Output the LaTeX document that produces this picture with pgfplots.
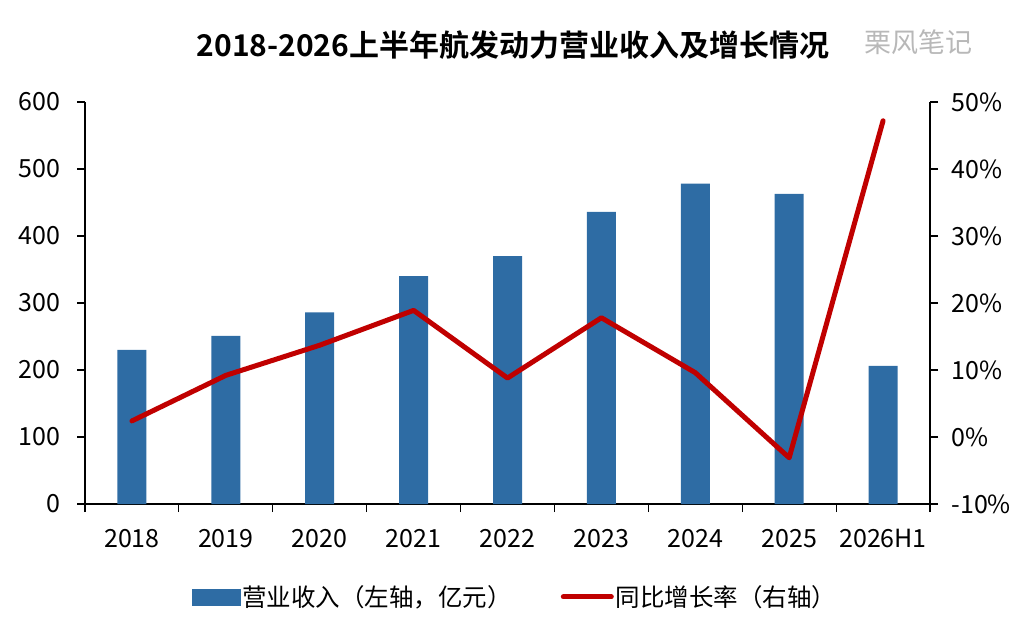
\documentclass[border=0pt]{standalone}
\usepackage{fontspec}
\setmainfont{Noto Sans CJK SC}[BoldFont={Noto Sans CJK SC Bold}]
\usepackage{pgfplots}
\pgfplotsset{compat=1.18}
\definecolor{barblue}{HTML}{2E6CA4}
\definecolor{linered}{HTML}{C00000}
\pgfplotstableread{
x rev
0 230
1 251
2 286
3 340
4 370
5 436
6 478
7 463
8 206
}\revtable
\pgfplotstableread{
x g
0 2.4
1 9.2
2 13.7
3 18.9
4 8.8
5 17.8
6 9.6
7 -3.1
8 47.2
}\growtable
\begin{document}
\begin{tikzpicture}
\useasboundingbox (0,0) rectangle (1024pt,633pt);
\begin{axis}[
  at={(85pt,129pt)}, anchor=south west,
  scale only axis, width=845pt, height=402pt,
  xmin=-0.5, xmax=8.5, ymin=0, ymax=600,
  axis x line*=bottom, axis y line*=left,
  axis line style={line width=1.2pt},
  every tick/.style={black, line width=1.2pt},
  tick align=outside, major tick length=8pt,
  xtick={-0.5,0.5,...,8.5}, xticklabels={},
  extra x ticks={0,1,2,3,4,5,6,7,8},
  extra x tick labels={2018,2019,2020,2021,2022,2023,2024,2025,2026H1},
  extra x tick style={major tick length=0pt},
  ytick={0,100,...,600},
  /pgf/number format/assume math mode=true,
  ticklabel style={font=\fontsize{25}{28}\selectfont},
  xticklabel style={yshift=-22pt},
  yticklabel style={xshift=-13pt},
  ymajorgrids=false, xmajorgrids=false,
  clip=false,
]
\addplot[ybar, bar width=29pt, fill=barblue, draw=none] table[x=x,y=rev] {\revtable};
\end{axis}
\begin{axis}[
  at={(85pt,129pt)}, anchor=south west,
  scale only axis, width=845pt, height=402pt,
  xmin=-0.5, xmax=8.5, ymin=-10, ymax=50,
  axis y line*=right, axis x line=none,
  axis line style={line width=1.2pt},
  every tick/.style={black, line width=1.2pt},
  tick align=outside, major tick length=8pt,
  ytick={-10,0,10,20,30,40,50},
  yticklabel={\pgfmathprintnumber{\tick}\%},
  /pgf/number format/assume math mode=true,
  ticklabel style={font=\fontsize{25}{28}\selectfont},
  yticklabel style={xshift=10pt},
  clip=false,
  legend style={at={(0.509,-0.231)}, anchor=center, draw=none, fill=none,
    font=\fontsize{24.5}{27}\selectfont, legend columns=2,
    /tikz/every even column/.append style={column sep=47pt}},
]
\addlegendimage{legend image code/.code={\fill[barblue] (0pt,-8pt) rectangle (48pt,8pt);}}
\addlegendentry{营业收入（左轴，亿元）}
\addplot[linered, line width=5pt, line join=round, line cap=round,
  legend image code/.code={\draw[linered, line width=5pt] (0pt,0pt) -- (48pt,0pt);}]
  table[x=x,y=g] {\growtable};
\addlegendentry{同比增长率（右轴）}
\end{axis}
\node[font=\bfseries\fontsize{30}{35}\selectfont] at (513pt,588pt) {2018-2026上半年航发动力营业收入及增长情况};
\node[text=black!28, font=\fontsize{27}{30}\selectfont] at (918pt,591pt) {栗风笔记};
\end{tikzpicture}
\end{document}
